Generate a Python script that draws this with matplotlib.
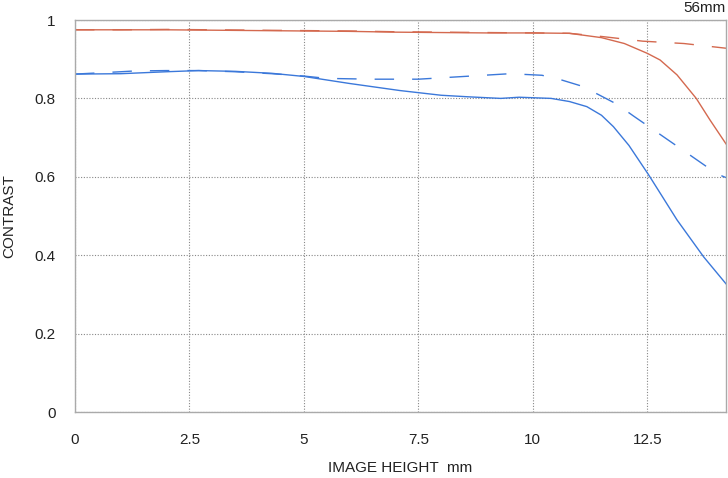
import matplotlib
matplotlib.use("Agg")
import matplotlib.pyplot as plt

plt.rcParams['font.family'] = ['Liberation Sans', 'DejaVu Sans']

# Data
red_solid_x = [0, 1, 2, 3, 4, 5, 6, 7, 8, 9, 10, 10.8, 11.5, 12.0, 12.5, 12.78, 13.15, 13.57, 13.87, 14.22]
red_solid_y = [0.975, 0.975, 0.975, 0.974, 0.973, 0.972, 0.971, 0.969, 0.968, 0.967, 0.967, 0.966, 0.955, 0.940, 0.915, 0.898, 0.860, 0.800, 0.745, 0.684]

red_dash_x = [0, 1, 2, 3, 4, 5, 6, 7, 8, 9, 10, 10.8, 11.5, 12.4, 13.3, 14.22]
red_dash_y = [0.975, 0.975, 0.976, 0.975, 0.974, 0.973, 0.972, 0.970, 0.969, 0.968, 0.967, 0.966, 0.958, 0.946, 0.940, 0.928]

blue_solid_x = [0, 1, 2, 2.7, 3.5, 4.3, 5, 6, 7.1, 8, 8.6, 9.3, 9.7, 10.4, 10.8, 11.18, 11.5, 11.76, 12.1, 12.53, 12.8, 13.15, 13.73, 14.22]
blue_solid_y = [0.862, 0.863, 0.868, 0.871, 0.869, 0.864, 0.856, 0.838, 0.820, 0.808, 0.804, 0.800, 0.803, 0.800, 0.792, 0.779, 0.757, 0.728, 0.680, 0.605, 0.555, 0.490, 0.396, 0.327]

blue_dash_x = [0, 1, 1.3, 2.0, 2.7, 3.5, 4.3, 5, 5.5, 6.5, 7.5, 8.5, 9.5, 10.2, 10.6, 11.05, 11.43, 11.84, 12.2, 12.56, 12.93, 13.29, 13.66, 14.03, 14.22]
blue_dash_y = [0.862, 0.868, 0.870, 0.871, 0.871, 0.868, 0.863, 0.857, 0.851, 0.849, 0.849, 0.856, 0.863, 0.859, 0.848, 0.832, 0.810, 0.785, 0.755, 0.726, 0.696, 0.667, 0.637, 0.607, 0.598]

x_ticks = [0, 2.5, 5, 7.5, 10, 12.5]
x_tick_labels = ['0', '2.5', '5', '7.5', '10', '12.5']
y_ticks = [0, 0.2, 0.4, 0.6, 0.8, 1]
y_tick_labels = ['0', '0.2', '0.4', '0.6', '0.8', '1']

RED = '#d4694f'
BLUE = '#3b78da'
TXT = '#222222'

fig = plt.figure(figsize=(7.28, 4.78), dpi=100)
ax = fig.add_axes([75/728, 1 - 412/478, (726-75)/728, (412-20)/478])

ax.plot(red_solid_x, red_solid_y, color=RED, lw=1.0)
ax.plot(red_dash_x, red_dash_y, color=RED, lw=1.0, dashes=(14, 13))
ax.plot(blue_solid_x, blue_solid_y, color=BLUE, lw=1.0)
ax.plot(blue_dash_x, blue_dash_y, color=BLUE, lw=1.0, dashes=(14, 13))

ax.set_xlim(0, 14.22)
ax.set_ylim(0, 1)
ax.set_xticks(x_ticks)
ax.set_xticklabels(x_tick_labels)
ax.set_yticks(y_ticks)
ax.set_yticklabels(y_tick_labels)
ax.tick_params(length=0, labelsize=11, colors=TXT, pad=14)
ax.tick_params(axis='x', pad=15)

ax.grid(True, color='#888888', linestyle=(0, (1, 1.5)), linewidth=0.8)
for s in ax.spines.values():
    s.set_color('#aaaaaa')
    s.set_linewidth(1.0)

fig.text(400/728, 1 - 468/478, 'IMAGE HEIGHT  mm', ha='center', va='center', fontsize=11, color=TXT)
fig.text(9/728, 1 - 216/478, 'CONTRAST', ha='center', va='center', rotation=90, fontsize=11, color=TXT)
fig.text(726/728, 1 - 8/478, '56mm', ha='right', va='center', fontsize=11, color=TXT)

fig.savefig('out.png', dpi=100)
